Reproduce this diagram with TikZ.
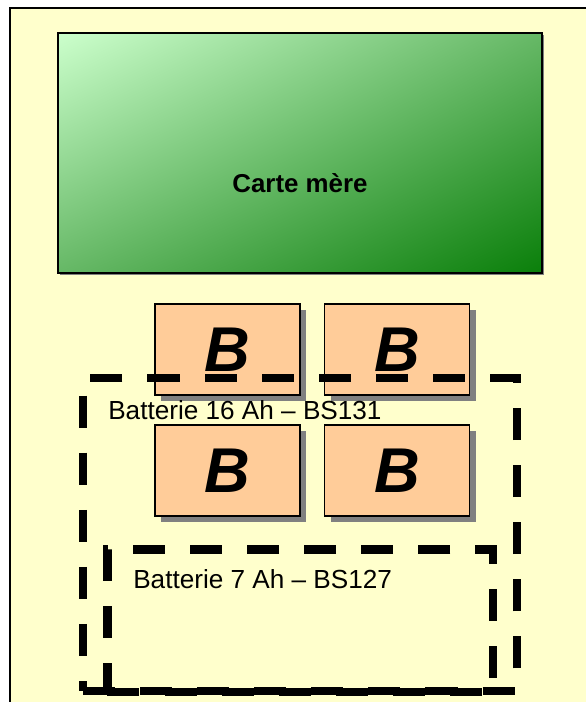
\documentclass[tikz,border=0pt]{standalone}
\usepackage{fontspec}
\setmainfont{Liberation Sans}
\usetikzlibrary{shadows,shadings}
\begin{document}
\begin{tikzpicture}[x=1cm,y=1cm]
\definecolor{cback}{HTML}{FFFFCC}\definecolor{cbatt}{HTML}{FFCC99}
\definecolor{cgreenl}{HTML}{CCFFCC}\definecolor{cgreend}{HTML}{0A7F0A}
\definecolor{cgreenm}{HTML}{66B866}\definecolor{cshadow}{HTML}{808080}
\tikzset{frame/.style={draw=black,line width=1.5pt,fill=cback,minimum width=14.95cm,minimum height=17.85cm},
 board/.style={draw=black,line width=1.5pt,minimum width=12.1cm,minimum height=6cm,
  upper left=cgreenl,lower right=cgreend,upper right=cgreenm,lower left=cgreenm,
  drop shadow={shadow xshift=0.04cm,shadow yshift=-0.04cm,fill=cshadow,opacity=1}},
 cell/.style={draw=black,line width=1.2pt,fill=cbatt,minimum width=3.625cm,minimum height=2.275cm,
  font=\fontsize{45}{45}\selectfont\bfseries\itshape,
  drop shadow={shadow xshift=0.16cm,shadow yshift=-0.16cm,fill=cshadow,opacity=1}},
 zone/.style={draw=black,line width=6pt,dash pattern=on 22.8pt off 17.8pt},
 tag/.style={anchor=west,inner sep=0pt,font=\fontsize{18.6}{20}\selectfont}}
\useasboundingbox (0,0) rectangle (14.625,17.55);
\node[frame] (frame) at (7.725,8.425) {};
% board
\node[board] (mb) at (7.5,13.725) {};
\node[font=\fontsize{18.4}{20}\selectfont\bfseries] (mblabel) at (7.5,12.975) {Carte mère};
% upper cells
\node[cell] (b1) at (5.6875,8.8125) {B};
\node[cell] (b2) at (9.925,8.8125) {B};
% 16 Ah zone
\node[zone,minimum width=10.85cm,minimum height=7.825cm] (z16) at (7.5,4.1875) {};
\node[tag] (t16) at (2.7,7.3) {Batterie 16 Ah – BS131};
% lower cells
\node[cell] (b3) at (5.6875,5.7875) {B};
\node[cell] (b4) at (9.925,5.7875) {B};
% 7 Ah zone
\node[zone,minimum width=9.64cm,minimum height=3.56cm] (z7) at (7.506,2.03) {};
\node[tag] (t7) at (3.325,3.075) {Batterie 7 Ah – BS127};
\end{tikzpicture}
\end{document}
